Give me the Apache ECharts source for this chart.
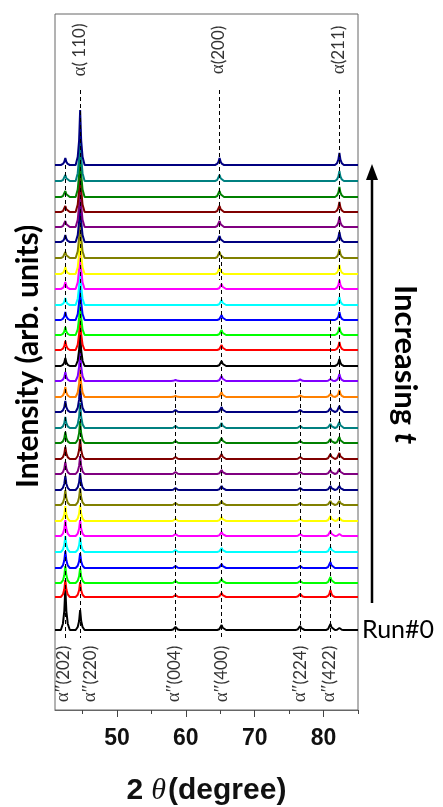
<!DOCTYPE html>
<html>
<head>
<meta charset="utf-8">
<script src="https://cdn.jsdelivr.net/npm/echarts@6/dist/echarts.min.js"></script>
<style>
  html, body { margin: 0; padding: 0; background: #fff; }
  #chart { width: 443px; height: 807px; }
</style>
</head>
<body>
<div id="chart"></div>
<script>
// stacked XRD patterns, Run#0 at the bottom, newest on top
const baselines = [80, 113, 127, 142, 158, 174, 189, 205, 220, 236, 251, 267, 282, 298, 313,
                   329, 344, 360, 375, 390, 405, 421, 436, 452, 468, 483, 498, 513, 529, 545]
const colors = ['#000000', '#ff0000', '#00ff00', '#0000ff', '#00ffff', '#ff00ff', '#ffff00', '#808000',
                '#000080', '#800080', '#800000', '#008000', '#008080', '#000080', '#ff8000', '#8000ff',
                '#000000', '#ff0000', '#00ff00', '#0000ff', '#00ffff', '#ff00ff', '#ffff00', '#808000',
                '#000080', '#800080', '#800000', '#008000', '#008080', '#000080']

// peak positions (2theta) and heights per run
const peakPos = [42.5, 44.65, 58.5, 65.2, 64.9, 76.6, 81.0, 82.3]
const h202 = [42, 17, 17, 17, 16, 16, 15, 15, 14, 12, 12, 11, 11, 11, 10, 9, 8, 9, 8, 8, 7, 7, 7, 6, 7, 6, 6, 6, 6, 7]
const h220 = [20, 15, 15, 15, 15, 16, 16, 17, 17, 18, 20, 22, 25, 28, 30, 32, 35, 36, 38, 40, 42, 44, 45, 45, 46, 48, 50, 50, 52, 55]
const h004 = [3, 2, 2, 2, 2, 2, 2, 2, 2, 2, 2, 2, 2, 2, 1, 1, 0, 0, 0, 0, 0, 0, 0, 0, 0, 0, 0, 0, 0, 0]
const h400 = [5, 4, 4, 4, 4, 4, 4, 4, 4, 4, 5, 5, 5, 5, 5, 5, 5, 5, 5, 5, 5, 5, 0, 0, 0, 0, 0, 0, 0, 0]
const h200 = [0, 0, 0, 0, 0, 0, 0, 0, 0, 0, 0, 0, 0, 0, 0, 0, 0, 0, 0, 0, 0, 0, 6, 6, 6, 6, 6, 6, 6, 7]
const h224 = [4, 3, 2, 2, 2, 2, 2, 2, 2, 2, 2, 2, 2, 2, 1.5, 1.5, 0, 0, 0, 0, 0, 0, 0, 0, 0, 0, 0, 0, 0, 0]
const h422 = [6, 7, 6, 6, 5, 5, 5, 4, 4, 4, 5, 4, 4, 4, 3, 2, 0, 0, 0, 0, 0, 0, 0, 0, 0, 0, 0, 0, 0, 0]
const h211 = [2, 0, 0, 0, 0, 2, 3, 4, 4, 5, 6, 6, 6, 6, 7, 7, 7, 8, 8, 8, 8, 9, 9, 9, 10, 10, 10, 10, 10, 12]
const peakHeights = [h202, h220, h004, h400, h200, h224, h422, h211]
// normalised profile of one peak: [offset in degrees, fraction of height]
const peakShape = [[-0.65, 0], [-0.35, 0.15], [-0.15, 0.45], [0, 1], [0.15, 0.45], [0.35, 0.15], [0.65, 0]]

const xMin = 41, xMax = 85
const majorTicks = [50, 60, 70, 80]
const minorTicks = [45, 55, 65, 75, 85]

// reflection labels [x, y, text]
const topLabels = [[44.6, 660, '( 110)'], [64.7, 660, '(200)'], [82.2, 660, '(211)']]
const bottomLabels = [[42.2, 36, '(202)'], [46.1, 36, '(220)'], [58.3, 36, '(004)'],
                      [65.2, 36, '(400)'], [76.6, 36, '(224)'], [80.8, 36, '(422)']]
// dashed guide lines [x, yTop, yBottom]
const guides = [[42.5, 545, 72], [44.65, 620, 72], [58.5, 327, 72], [64.9, 620, 430],
                [65.2, 455, 72], [76.6, 327, 72], [81.0, 390, 72], [82.3, 620, 180]]

const chart = echarts.init(document.getElementById('chart'))

const runSeries = baselines.map((b, i) => {
    let pts = [[xMin, b]]
    peakPos.forEach((p, k) => {
        const h = peakHeights[k][i]
        if (!h) return
        peakShape.forEach(s => pts.push([p + s[0], b + h * s[1]]))
    })
    pts.push([xMax, b])
    pts.sort((a, c) => a[0] - c[0])
    return {
        type: 'line',
        name: 'Run#' + i,
        data: pts,
        showSymbol: false,
        lineStyle: { color: colors[i], width: 2 },
        itemStyle: { color: colors[i] },
        endLabel: i === 0 ? {
            show: true, formatter: 'Run#0', distance: 4,
            fontSize: 25, fontFamily: 'Lato', color: '#000'
        } : { show: false },
        silent: true
    }
})

const labelStyle = {
    show: true, rotate: 90, align: 'center', verticalAlign: 'middle', color: '#000',
    rich: {
        g: { fontFamily: 'Liberation Serif', fontSize: 19, color: '#000' },
        n: { fontFamily: 'Lato', fontSize: 17, color: '#000' }
    }
}

const option = {
    animation: false,
    backgroundColor: '#fff',
    grid: {
        left: 55, right: 85, top: 14, bottom: 97, show: true,
        borderColor: '#666', borderWidth: 1, outerBoundsMode: 'none'
    },
    xAxis: [{
        type: 'value', min: xMin, max: xMax, position: 'bottom',
        axisLine: { show: true, lineStyle: { color: '#666' } },
        axisTick: { show: true, customValues: majorTicks, length: 7, lineStyle: { color: '#444' } },
        axisLabel: {
            customValues: majorTicks, fontSize: 23, fontWeight: 'bold',
            fontFamily: 'Liberation Sans', color: '#111', margin: 17
        },
        splitLine: { show: false },
        name: '{a|2}{t|θ}{a|(degree)}',
        nameLocation: 'middle', nameGap: 66,
        nameTextStyle: {
            rich: {
                a: { fontSize: 30, fontWeight: 'bold', fontFamily: 'Liberation Sans', color: '#111' },
                t: { fontSize: 30, fontStyle: 'italic', fontFamily: 'Liberation Serif', color: '#111', padding: [0, 2, 0, 8] }
            }
        }
    }, {
        type: 'value', min: xMin, max: xMax, position: 'bottom',
        axisLine: { show: false },
        axisTick: { show: true, customValues: minorTicks, length: 4, lineStyle: { color: '#444' } },
        axisLabel: { show: false },
        splitLine: { show: false }
    }],
    yAxis: {
        type: 'value', min: 0, max: 696,
        axisLine: { show: false }, axisTick: { show: false },
        axisLabel: { show: false }, splitLine: { show: false }
    },
    series: runSeries.concat([{
        type: 'scatter',
        symbolSize: 0,
        silent: true,
        z: 5,
        data: topLabels.map(d => ({ value: [d[0], d[1]], text: d[2] })),
        label: Object.assign({}, labelStyle, { formatter: p => '{g|α}{n|' + p.data.text + '}' }),
        markLine: {
            silent: true, symbol: ['none', 'none'],
            label: { show: false },
            lineStyle: { color: '#000', width: 1, type: [4, 3] },
            data: guides.map(g => [{ coord: [g[0], g[1]] }, { coord: [g[0], g[2]] }])
        }
    }, {
        type: 'scatter',
        symbolSize: 0,
        silent: true,
        z: 5,
        data: bottomLabels.map(d => ({ value: [d[0], d[1]], text: d[2] })),
        label: Object.assign({}, labelStyle, { formatter: p => '{g|α″}{n|' + p.data.text + '}' })
    }]),
    graphic: [{
        type: 'text', x: 13, y: 488,
        rotation: Math.PI / 2,
        style: {
            text: 'Intensity (arb. units)',
            fontSize: 30, fontWeight: 'bold', fontFamily: 'Lato', fill: '#000',
            textAlign: 'left', textVerticalAlign: 'top'
        }
    }, {
        type: 'line',
        shape: { x1: 372, y1: 603, x2: 372, y2: 178 },
        style: { stroke: '#000', lineWidth: 2.5 }
    }, {
        type: 'polygon',
        shape: { points: [[372, 164], [366, 180], [378, 180]] },
        style: { fill: '#000' }
    }, {
        type: 'text',
        x: 420, y: 285,
        rotation: -Math.PI / 2,
        style: {
            text: '{a|Increasing }{b|t}',
            textAlign: 'left', textVerticalAlign: 'top',
            rich: {
                a: { fontSize: 31, fontWeight: 'bold', fontFamily: 'Lato', fill: '#000' },
                b: { fontSize: 31, fontWeight: 'bold', fontStyle: 'italic', fontFamily: 'Lato', fill: '#000' }
            }
        }
    }]
}

chart.setOption(option)
</script>
</body>
</html>
